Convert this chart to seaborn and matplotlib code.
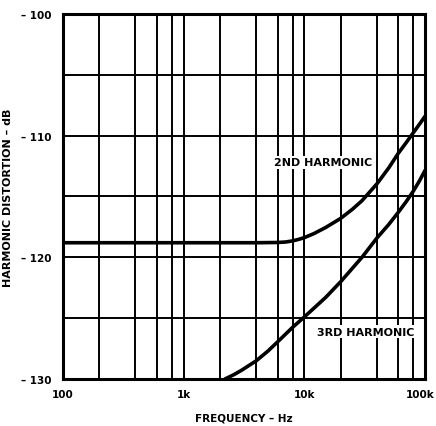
import pandas as pd
import seaborn as sns
import matplotlib.pyplot as plt
from matplotlib.transforms import ScaledTranslation
from matplotlib.ticker import FixedLocator, NullFormatter

# harmonic distortion vs frequency
freq_2nd = [100, 1000, 4000, 6000, 7000, 8000, 9000, 10000, 12000, 15000, 20000,
            25000, 30000, 40000, 50000, 60000, 70000, 80000, 90000, 100000]
db_2nd = [-118.8, -118.8, -118.8, -118.78, -118.74, -118.65, -118.52, -118.38, -118.05,
          -117.55, -116.8, -116.05, -115.35, -113.95, -112.65, -111.45, -110.55, -109.75,
          -109.05, -108.4]

freq_3rd = [2200, 2600, 3000, 4000, 5000, 6000, 8000, 10000, 15000, 20000, 30000,
            40000, 50000, 60000, 70000, 80000, 90000, 100000]
db_3rd = [-130.0, -129.65, -129.3, -128.5, -127.7, -126.95, -125.75, -124.9, -123.3,
          -122.0, -120.0, -118.4, -117.3, -116.3, -115.4, -114.55, -113.7, -112.85]

x_grid = [100, 200, 400, 600, 800, 1000, 2000, 4000, 6000, 8000,
          10000, 20000, 40000, 60000, 80000, 100000]
x_ticks = [100, 1000, 10000, 100000]
x_labels = ["100", "1k", "10k", "100k"]
y_grid = [-130, -125, -120, -115, -110, -105, -100]
y_ticks = [-130, -120, -110, -100]
y_labels = ["– 130", "– 120", "– 110", "– 100"]

df = pd.concat([
    pd.DataFrame({"freq": freq_2nd, "db": db_2nd, "curve": "2ND HARMONIC"}),
    pd.DataFrame({"freq": freq_3rd, "db": db_3rd, "curve": "3RD HARMONIC"}),
])

sns.set_style("white")
plt.rcParams["font.family"] = ["DejaVu Sans"]
plt.rcParams["text.color"] = "black"
plt.rcParams["axes.labelcolor"] = "black"
plt.rcParams["xtick.color"] = "black"
plt.rcParams["ytick.color"] = "black"

fig = plt.figure(figsize=(4.36, 4.27), dpi=100)
ax = fig.add_axes([0.144, 0.110, 0.831, 0.855])

for xv in x_grid:
    ax.axvline(xv, color="black", lw=1.4, zorder=1)
for yv in y_grid:
    ax.axhline(yv, color="black", lw=1.4, zorder=1)

sns.lineplot(data=df, x="freq", y="db", units="curve", estimator=None,
             color="black", lw=2.6, ax=ax, zorder=3)

ax.set_xscale("log")
ax.set_xlim(100, 100000)
ax.set_ylim(-130, -100)
ax.xaxis.set_major_locator(FixedLocator(x_ticks))
ax.xaxis.set_minor_locator(FixedLocator([]))
ax.xaxis.set_minor_formatter(NullFormatter())
ax.set_xticks(x_ticks)
ax.set_xticklabels(x_labels, fontsize=7.5, fontweight="bold")
ax.set_yticks(y_ticks)
ax.set_yticklabels(y_labels, fontsize=7.5, fontweight="bold")
ax.tick_params(axis="x", length=0, pad=7)
ax.tick_params(axis="y", length=0, pad=8)
ax.set_xlabel("FREQUENCY – Hz", fontsize=7.5, fontweight="bold", labelpad=10)
ax.set_ylabel("HARMONIC DISTORTION – dB", fontsize=8, fontweight="bold", labelpad=6)

# keep "100k" inside the figure edge
last = ax.get_xticklabels()[-1]
last.set_horizontalalignment("right")
last.set_transform(last.get_transform() + ScaledTranslation(9 / 100, 0, fig.dpi_scale_trans))

for spine in ax.spines.values():
    spine.set_visible(True)
    spine.set_color("black")
    spine.set_linewidth(2.2)

ax.text(14400, -112.2, "2ND HARMONIC", fontsize=8, fontweight="bold",
        ha="center", va="center", zorder=4,
        bbox=dict(facecolor="white", edgecolor="none", pad=1))
ax.text(32000, -126.1, "3RD HARMONIC", fontsize=8, fontweight="bold",
        ha="center", va="center", zorder=4,
        bbox=dict(facecolor="white", edgecolor="none", pad=1))

fig.savefig("out.png", dpi=100)
